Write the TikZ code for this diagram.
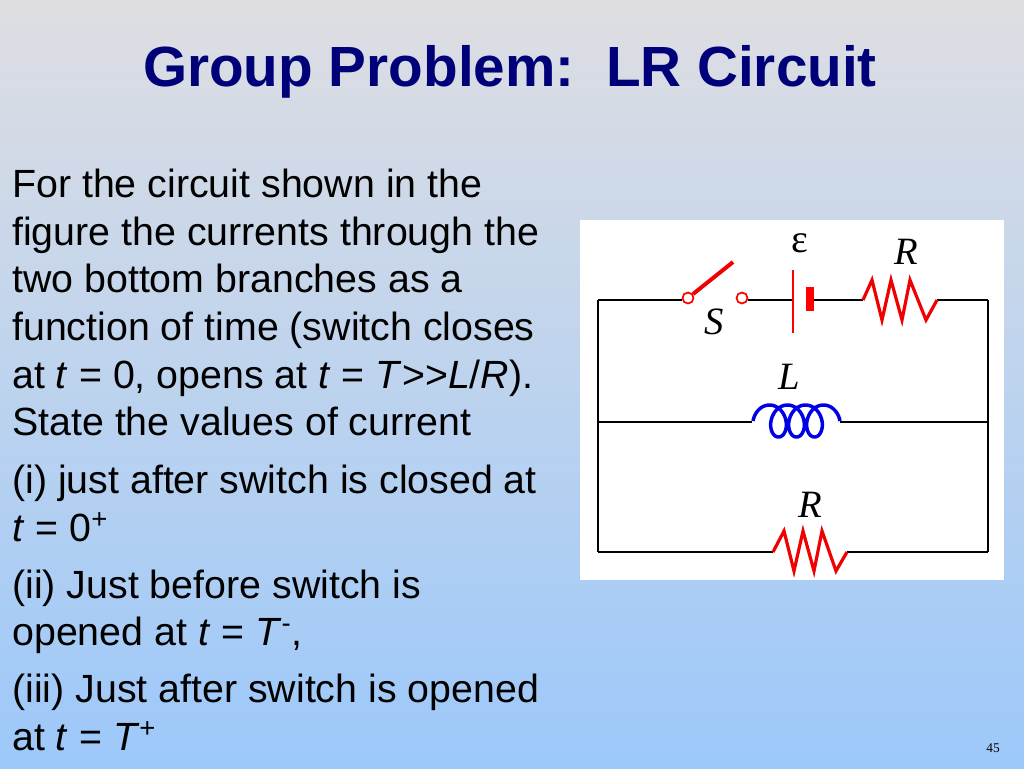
\documentclass[tikz,border=0pt]{standalone}
\usepackage{fontspec}
\setmainfont{Liberation Sans}
\newfontfamily\serifit{Liberation Serif}
\begin{document}
\begin{tikzpicture}[x=0.75pt,y=-0.75pt,
  txt/.style={anchor=base west,inner sep=0pt,font=\fontsize{29.5}{30}\selectfont},
  wire/.style={draw=black,line width=0.8pt},
  redline/.style={draw={rgb,255:red,240;green,0;blue,0},line width=2.4pt},
  lab/.style={font=\serifit\itshape\fontsize{29}{29}\selectfont,inner sep=0pt}]
\shade[top color={rgb,255:red,222;green,222;blue,226},bottom color={rgb,255:red,156;green,200;blue,250}] (0,0) rectangle (1024,768);
\useasboundingbox (0,0) rectangle (1024,768);
\node[font=\bfseries\fontsize{42.5}{44}\selectfont,text={rgb,255:red,0;green,0;blue,120}] (title) at (510,72) {Group Problem:\ \ LR Circuit};
\node[txt] (l1) at (12,197) {For the circuit shown in the};
\node[txt] (l2) at (12,245) {figure the currents through the};
\node[txt] (l3) at (12,292) {two bottom branches as a};
\node[txt] (l4) at (12,340) {function of time (switch closes};
\node[txt] (l5) at (12,388) {at \textit{t} = 0, opens at \textit{t} = \textit{T}>{}>\textit{L}/\textit{R}).};
\node[txt] (l6) at (12,435) {State the values of current};
\node[txt] (l7) at (12,493) {(i) just after switch is closed at};
\node[txt] (l8) at (12,541) {\textit{t} = 0\textsuperscript{+}};
\node[txt] (l9) at (12,598) {(ii) Just before switch is};
\node[txt] (l10) at (12,645) {opened at \textit{t} = \textit{T}\textsuperscript{-},};
\node[txt] (l11) at (12,702) {(iii) Just after switch is opened};
\node[txt] (l12) at (12,750) {at \textit{t} = \textit{T}\textsuperscript{+}};
\node[font=\serifit\fontsize{10}{10}\selectfont] (pg) at (993,748) {45};
% circuit
\fill[white] (580,220) rectangle (1004,580);
\coordinate (tl) at (598,300); \coordinate (tr) at (988,300);
\coordinate (ml) at (598,422); \coordinate (mr) at (988,422);
\coordinate (bl) at (598,552); \coordinate (br) at (988,552);
\draw[wire] (tl) -- (bl) (tr) -- (br);
\draw[wire] (tl) -- (682,300) (748,300) -- (793,300) (810,300) -- (863,300) (937,300) -- (tr);
\draw[wire] (ml) -- (752,422) (840,422) -- (mr);
\draw[wire] (bl) -- (773,552) (847,552) -- (br);
% switch
\draw[draw=red,line width=1.3pt] (688,298) circle (5.5) (742,298) circle (5.5);
\draw[redline,line width=3pt] (693,294) -- (733,262);
\node[lab] (S) at (714,322) {S};
% battery
\draw[draw=red,line width=1.3pt] (793,270) -- (793,333);
\draw[draw=red,line width=6pt] (810,287) -- (810,311);
\node[font=\serifit\fontsize{30}{30}\selectfont,inner sep=0pt] (eps) at (800,243) {ε};
% top resistor
\draw[redline,line join=miter] (863,300) -- (872,280) -- (882,320) -- (891,280) -- (902,320) -- (910,280) -- (926,320) -- (937,300);
\node[lab] (R1) at (906,252) {R};
% inductor
\draw[draw={rgb,255:red,0;green,0;blue,230},line width=2.6pt] plot[domain=0:1260,samples=240,smooth] ({765+\x/360*18-12*cos(\x)},{421-16*sin(\x)});
\node[lab] (L) at (789,377) {L};
% bottom resistor
\draw[redline,line join=miter] (773,552) -- (784,531) -- (794,571) -- (803,531) -- (814,571) -- (822,531) -- (836,571) -- (847,552);
\node[lab] (R2) at (810,505) {R};
\end{tikzpicture}
\end{document}
